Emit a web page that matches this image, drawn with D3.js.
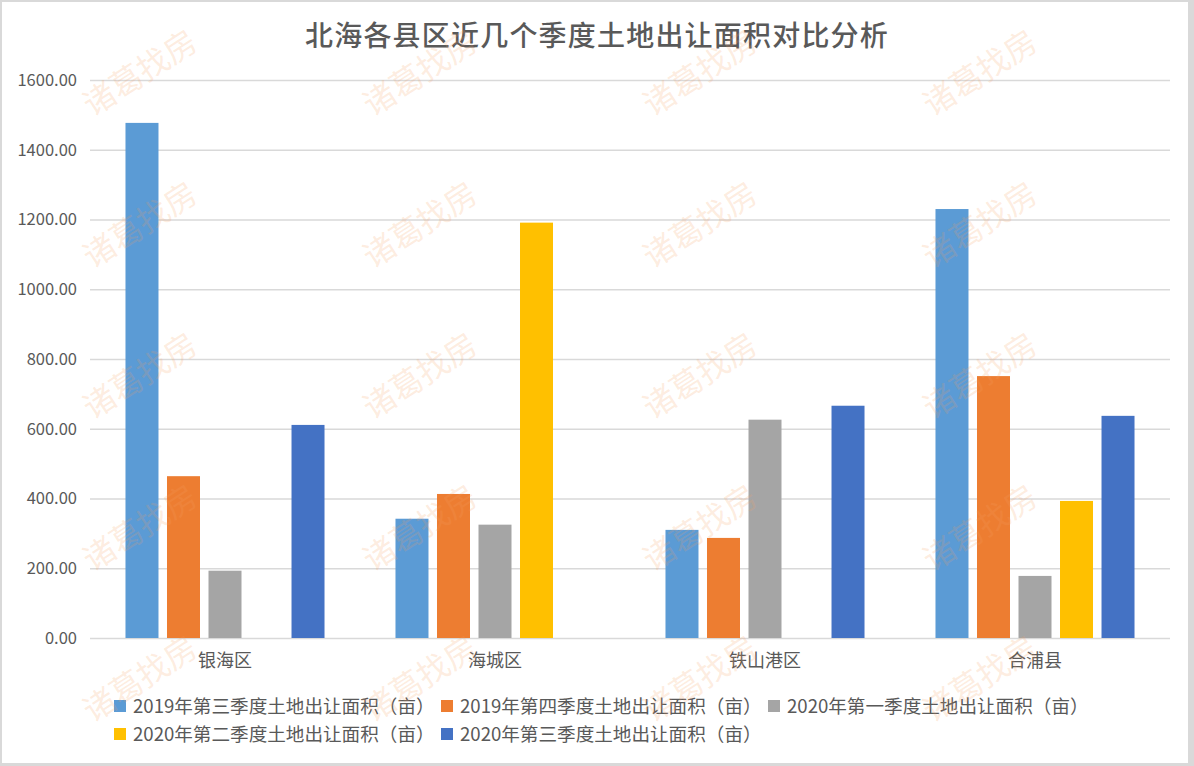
<!DOCTYPE html>
<html>
<head>
<meta charset="utf-8">
<script src="https://cdn.jsdelivr.net/npm/d3@7"></script>
<style>
  html, body { margin: 0; padding: 0; background: #fff; }
  svg { display: block; }
  text { font-family: "Noto Sans CJK SC", "Noto Sans", sans-serif; }
</style>
</head>
<body>
<svg id="chart" width="1194" height="766"></svg>
<script>
const title = "北海各县区近几个季度土地出让面积对比分析";
const categories = ["银海区", "海城区", "铁山港区", "合浦县"];
const seriesNames = [
  "2019年第三季度土地出让面积（亩）",
  "2019年第四季度土地出让面积（亩）",
  "2020年第一季度土地出让面积（亩）",
  "2020年第二季度土地出让面积（亩）",
  "2020年第三季度土地出让面积（亩）"
];
const s2019Q3 = [1477, 342, 310, 1230];
const s2019Q4 = [464, 413, 287, 751];
const s2020Q1 = [193, 325, 626, 178];
const s2020Q2 = [null, 1191, null, 393];
const s2020Q3 = [611, null, 666, 637];
const yTicks = [0, 200, 400, 600, 800, 1000, 1200, 1400, 1600];
const colors = ["#5b9bd5", "#ed7d31", "#a5a5a5", "#ffc000", "#4472c4"];
const watermarkText = "诸葛找房";

const seriesValues = [s2019Q3, s2019Q4, s2020Q1, s2020Q2, s2020Q3];

const W = 1194, H = 766;
const svg = d3.select("#chart");

// frame
svg.append("rect").attr("x", 0).attr("y", 0).attr("width", W).attr("height", H).attr("fill", "#d9d9d9");
svg.append("rect").attr("x", 2).attr("y", 2).attr("width", 1186).attr("height", 761).attr("fill", "#ffffff");

const plot = { left: 90, right: 1170, top: 80, bottom: 638 };

const y = d3.scaleLinear().domain([0, 1600]).range([plot.bottom, plot.top]);
const x0 = d3.scaleBand().domain(categories).range([plot.left, plot.right]).padding(0);
const x1 = d3.scaleBand().domain(d3.range(seriesNames.length)).range([0, x0.bandwidth()])
  .paddingInner(0.205).paddingOuter(0.855);

// title
svg.append("text")
  .attr("x", 597).attr("y", 46)
  .attr("text-anchor", "middle")
  .attr("font-size", 28)
  .attr("letter-spacing", 1.2)
  .attr("font-weight", 500)
  .attr("fill", "#595959")
  .text(title);

// gridlines
const yAxis = d3.axisLeft(y).tickValues(yTicks).tickFormat(d3.format(".2f"))
  .tickSize(-(plot.right - plot.left)).tickPadding(13);
const gy = svg.append("g").attr("transform", `translate(${plot.left},0)`).call(yAxis);
gy.select(".domain").remove();
gy.selectAll(".tick line").attr("stroke", "#d9d9d9").attr("stroke-width", 1.6);
gy.selectAll(".tick text").attr("font-size", 16.5).attr("fill", "#595959")
  .attr("font-family", "'Noto Sans CJK SC', sans-serif");

// bars
const groups = svg.append("g").selectAll("g").data(categories).join("g")
  .attr("transform", d => `translate(${x0(d)},0)`);
groups.selectAll("rect")
  .data((c, ci) => seriesValues.map((vals, si) => ({ si, v: vals[ci] })).filter(d => d.v != null))
  .join("rect")
  .attr("x", d => x1(d.si))
  .attr("width", x1.bandwidth())
  .attr("y", d => y(d.v))
  .attr("height", d => y(0) - y(d.v))
  .attr("fill", d => colors[d.si]);

// x axis labels
const xAxis = d3.axisBottom(x0).tickSize(0).tickPadding(16);
const gx = svg.append("g").attr("transform", `translate(0,${plot.bottom})`).call(xAxis);
gx.select(".domain").remove();
gx.selectAll(".tick text").attr("font-size", 18).attr("fill", "#595959")
  .attr("font-family", "'Noto Sans CJK SC', sans-serif");

// legend
const legend = svg.append("g");
const legendItems = seriesNames.map((n, i) => ({ n, i, row: i < 3 ? 0 : 1, col: i < 3 ? i : i - 3 }));
const lg = legend.selectAll("g").data(legendItems).join("g")
  .attr("transform", d => `translate(${114 + d.col * 327},${706 + d.row * 28})`);
lg.append("rect").attr("x", 0).attr("y", -6).attr("width", 12).attr("height", 12).attr("fill", d => colors[d.i]);
lg.append("text").attr("x", 19).attr("y", 0).attr("dy", "0.35em")
  .attr("font-size", 18.6).attr("fill", "#595959").text(d => d.n);

// watermarks
const wmCols = [140, 420, 700, 980];
const wmRows = [73, 225, 376, 528, 679];
const wm = svg.append("g").attr("pointer-events", "none");
wmRows.forEach(ry => wmCols.forEach(cx => {
  wm.append("text")
    .attr("transform", `translate(${cx},${ry}) rotate(-33)`)
    .attr("text-anchor", "middle").attr("dy", "0.35em")
    .attr("font-size", 32)
    .attr("fill", "#f7a064").attr("fill-opacity", 0.2)
    .text(watermarkText);
}));
</script>
</body>
</html>
